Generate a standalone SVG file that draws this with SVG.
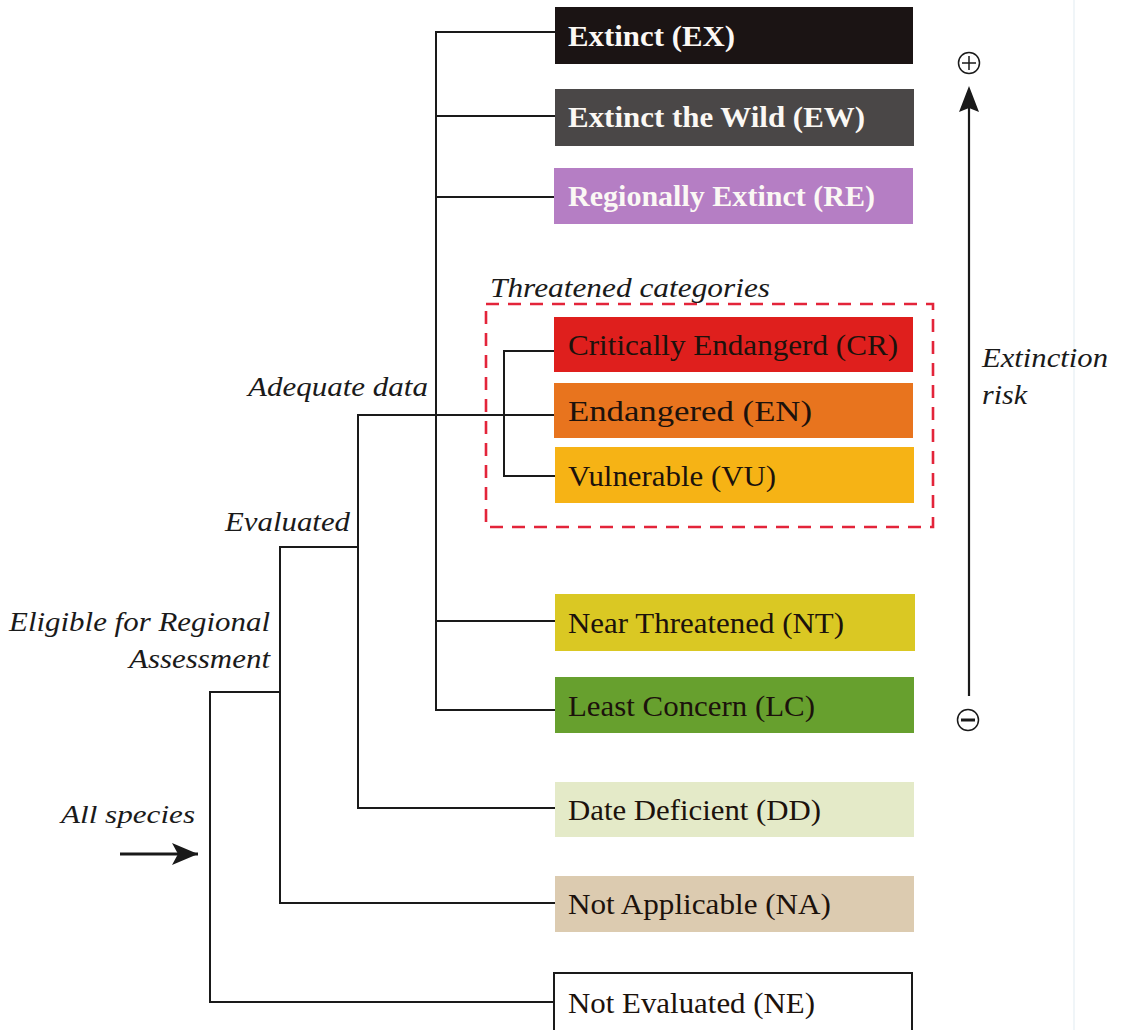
<svg xmlns="http://www.w3.org/2000/svg" width="1123" height="1030" viewBox="0 0 1123 1030">
  <defs>
    <style>
      text { font-family: "Liberation Serif", Tinos, "Times New Roman", Times, serif; }
      .box-text { font-size: 30px; fill: #1c120c; }
      .bold-text { font-size: 30px; font-weight: bold; fill: #fbf8f4; }
      .label { font-size: 27px; font-style: italic; fill: #1a1a1a; }
      .conn { fill: none; stroke: #1a1a1a; stroke-width: 2; }
      .dash { fill: none; stroke: #e3243a; stroke-width: 2.6; stroke-dasharray: 13 9; }
    </style>
    <marker id="arrowHead" viewBox="0 0 26 22" refX="26" refY="11" markerWidth="26" markerHeight="22" markerUnits="userSpaceOnUse" orient="auto">
      <path d="M0,0 L26,11 L0,22 L6,11 Z" fill="#1a1a1a"/>
    </marker>
  </defs>

  <rect x="0" y="0" width="1123" height="1030" fill="#ffffff"/>
  <line x1="1074" y1="0" x2="1074" y2="1030" stroke="#e6eef4" stroke-width="1.2"/>

  <g id="connectors">
    <polyline class="conn" points="555,32 436,32 436,710 555,710"/>
    <line class="conn" x1="436" y1="116" x2="555" y2="116"/>
    <line class="conn" x1="436" y1="197" x2="555" y2="197"/>
    <line class="conn" x1="436" y1="621" x2="555" y2="621"/>
    <polyline class="conn" points="555,351 504,351 504,476 555,476"/>
    <polyline class="conn" points="555,415 358,415 358,808 555,808"/>
    <polyline class="conn" points="358,547 280,547 280,903 555,903"/>
    <polyline class="conn" points="280,692 210,692 210,1002 555,1002"/>
    <line x1="120" y1="854" x2="198" y2="854" stroke="#1a1a1a" stroke-width="3" marker-end="url(#arrowHead)"/>
  </g>

  <g id="threatened-group">
    <rect class="dash" x="486" y="304" width="447" height="223"/>
    <text class="label" x="490" y="297" textLength="280" lengthAdjust="spacingAndGlyphs">Threatened categories</text>
  </g>

  <g id="node-EX">
    <rect x="555" y="7" width="358" height="57" fill="#1b1414"/>
    <text class="bold-text" x="568" y="46" textLength="167" lengthAdjust="spacingAndGlyphs">Extinct (EX)</text>
  </g>
  <g id="node-EW">
    <rect x="555" y="89" width="359" height="57" fill="#4a4747"/>
    <text class="bold-text" x="568" y="127" textLength="297" lengthAdjust="spacingAndGlyphs">Extinct the Wild (EW)</text>
  </g>
  <g id="node-RE">
    <rect x="554" y="168" width="359" height="56" fill="#b57ec4"/>
    <text class="bold-text" x="568" y="206" textLength="307" lengthAdjust="spacingAndGlyphs" fill="#f6f0fa">Regionally Extinct (RE)</text>
  </g>
  <g id="node-CR">
    <rect x="554" y="317" width="359" height="55" fill="#df1f1d"/>
    <text class="box-text" x="568" y="355" textLength="330" lengthAdjust="spacingAndGlyphs" fill="#2a0707">Critically Endangerd (CR)</text>
  </g>
  <g id="node-EN">
    <rect x="554" y="383" width="359" height="55" fill="#e8741e"/>
    <text class="box-text" x="568" y="421" textLength="244" lengthAdjust="spacingAndGlyphs">Endangered (EN)</text>
  </g>
  <g id="node-VU">
    <rect x="555" y="447" width="359" height="56" fill="#f6b315"/>
    <text class="box-text" x="568" y="486" textLength="208" lengthAdjust="spacingAndGlyphs">Vulnerable (VU)</text>
  </g>
  <g id="node-NT">
    <rect x="555" y="594" width="360" height="57" fill="#dac823"/>
    <text class="box-text" x="568" y="633" textLength="276" lengthAdjust="spacingAndGlyphs">Near Threatened (NT)</text>
  </g>
  <g id="node-LC">
    <rect x="555" y="677" width="359" height="56" fill="#67a02e"/>
    <text class="box-text" x="568" y="716" textLength="247" lengthAdjust="spacingAndGlyphs">Least Concern (LC)</text>
  </g>
  <g id="node-DD">
    <rect x="555" y="782" width="359" height="55" fill="#e4eac8"/>
    <text class="box-text" x="568" y="820" textLength="253" lengthAdjust="spacingAndGlyphs">Date Deficient (DD)</text>
  </g>
  <g id="node-NA">
    <rect x="555" y="876" width="359" height="56" fill="#dccbb0"/>
    <text class="box-text" x="568" y="914" textLength="263" lengthAdjust="spacingAndGlyphs">Not Applicable (NA)</text>
  </g>
  <g id="node-NE">
    <rect x="554" y="973" width="358" height="62" fill="#ffffff" stroke="#1a1a1a" stroke-width="2"/>
    <text class="box-text" x="568" y="1013" textLength="247" lengthAdjust="spacingAndGlyphs">Not Evaluated (NE)</text>
  </g>

  <g id="labels">
    <text class="label" x="428" y="396" text-anchor="end" textLength="180" lengthAdjust="spacingAndGlyphs">Adequate data</text>
    <text class="label" x="350" y="531" text-anchor="end" textLength="125" lengthAdjust="spacingAndGlyphs">Evaluated</text>
    <text class="label" x="270" y="631" text-anchor="end" textLength="261" lengthAdjust="spacingAndGlyphs">Eligible for Regional</text>
    <text class="label" x="270" y="668" text-anchor="end" textLength="141" lengthAdjust="spacingAndGlyphs">Assessment</text>
    <text class="label" x="61" y="823" textLength="134" lengthAdjust="spacingAndGlyphs" style="font-size:25px">All species</text>
  </g>

  <g id="risk-axis">
    <line x1="969" y1="108" x2="969" y2="696" stroke="#1a1a1a" stroke-width="2.2"/>
    <path d="M969,86 L979,112 L969,108 L959,112 Z" fill="#1a1a1a"/>
    <circle cx="969" cy="63" r="10.5" fill="none" stroke="#1a1a1a" stroke-width="1.5"/>
    <path d="M962,63 H976 M969,56 V70" stroke="#1a1a1a" stroke-width="1.5"/>
    <circle cx="968" cy="720" r="10.5" fill="none" stroke="#1a1a1a" stroke-width="1.5"/>
    <path d="M961,720 H975" stroke="#1a1a1a" stroke-width="3"/>
    <text class="label" x="982" y="367" textLength="126" lengthAdjust="spacingAndGlyphs">Extinction</text>
    <text class="label" x="982" y="404" textLength="45" lengthAdjust="spacingAndGlyphs">risk</text>
  </g>
</svg>
